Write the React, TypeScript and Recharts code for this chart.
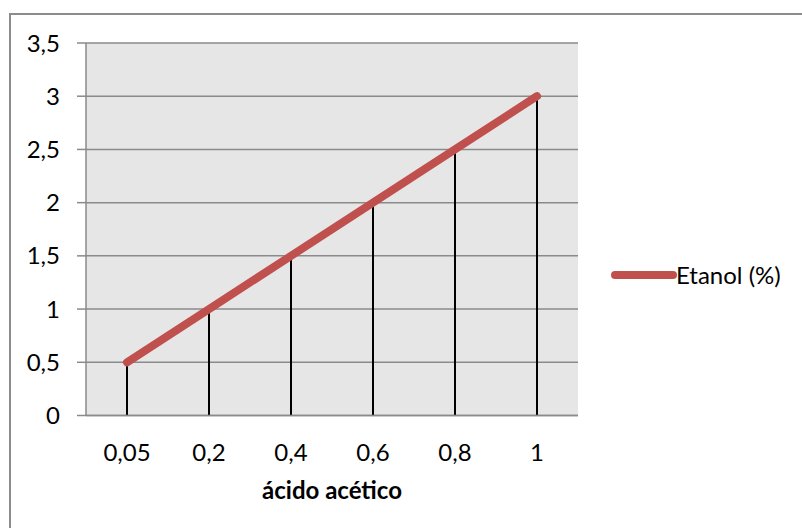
import React from 'react';
import { ComposedChart, Line, Bar, XAxis, YAxis, CartesianGrid, Legend, Label } from 'recharts';

// Acetic acid concentrations (category labels on the x axis)
const categories = ['0,05', '0,2', '0,4', '0,6', '0,8', '1'];
// Ethanol percentage for each concentration
const etanolValues = [0.5, 1, 1.5, 2, 2.5, 3];
// Value axis ticks
const yTicks = [0, 0.5, 1, 1.5, 2, 2.5, 3, 3.5];

const seriesName = 'Etanol (%)';
const axisTitle = 'ácido acético';

const data = categories.map((c, i) => ({ cat: c, etanol: etanolValues[i] }));

const FONT = 'Lato, "Open Sans", sans-serif';
const FS = 24;
const RED = '#c0504d';
const GRID = '#8a8a8a';

const fmt = (v: number) => String(v).replace('.', ',');

const LegendContent = () => (
  <svg width={190} height={32} style={{ display: 'block', overflow: 'visible' }}>
    <line x1={4} y1={16} x2={62} y2={16} stroke={RED} strokeWidth={8} strokeLinecap="round" />
    <text x={65} y={16} dy="0.36em" fontFamily={FONT} fontSize={FS} fill="#000">
      {seriesName}
    </text>
  </svg>
);

export default function App() {
  return (
    <div
      style={{
        position: 'absolute',
        left: 0,
        top: 0,
        width: 802,
        height: 528,
        overflow: 'hidden',
        background: '#fff',
      }}
    >
      <div
        style={{
          position: 'absolute',
          left: 9,
          top: 13,
          width: 820,
          height: 540,
          borderLeft: `2px solid #8c8c8c`,
          borderTop: `2px solid #8c8c8c`,
        }}
      />
      <div style={{ position: 'absolute', left: 0, top: 0 }}>
        <ComposedChart
          width={802}
          height={528}
          data={data}
          margin={{ top: 43, right: 224, bottom: 0, left: 0 }}
        >
          <CartesianGrid
            vertical={false}
            horizontal={true}
            fill="#e6e6e6"
            stroke={GRID}
            strokeWidth={1.5}
            horizontalValues={yTicks}
          />
          <XAxis
            dataKey="cat"
            type="category"
            height={112.5}
            tickLine={false}
            tickSize={0}
            tickMargin={28}
            axisLine={{ stroke: GRID, strokeWidth: 1.5 }}
            tick={{ fontFamily: FONT, fontSize: FS, fill: '#000' }}
            interval={0}
          >
            <Label
              value={axisTitle}
              position="insideBottom"
              offset={29}
              style={{ fontFamily: FONT, fontSize: FS, fontWeight: 700, fill: '#000' }}
            />
          </XAxis>
          <YAxis
            type="number"
            domain={[0, 3.5]}
            ticks={yTicks}
            width={86}
            tickSize={9}
            tickMargin={17}
            tickFormatter={fmt}
            axisLine={{ stroke: GRID, strokeWidth: 1.5 }}
            tickLine={{ stroke: GRID, strokeWidth: 1.5 }}
            tick={{ fontFamily: FONT, fontSize: FS, fill: '#000' }}
            interval={0}
          />
          <Legend
            layout="horizontal"
            align="center"
            verticalAlign="middle"
            content={<LegendContent />}
            wrapperStyle={{ left: 611, top: 259, width: 190, height: 32 }}
          />
          {/* drop lines from each point down to the category axis */}
          <Bar dataKey="etanol" barSize={2} fill="#000" isAnimationActive={false} legendType="none" />
          <Line
            dataKey="etanol"
            name={seriesName}
            stroke={RED}
            strokeWidth={8}
            strokeLinecap="round"
            strokeLinejoin="round"
            dot={false}
            activeDot={false}
            isAnimationActive={false}
          />
        </ComposedChart>
      </div>
    </div>
  );
}
